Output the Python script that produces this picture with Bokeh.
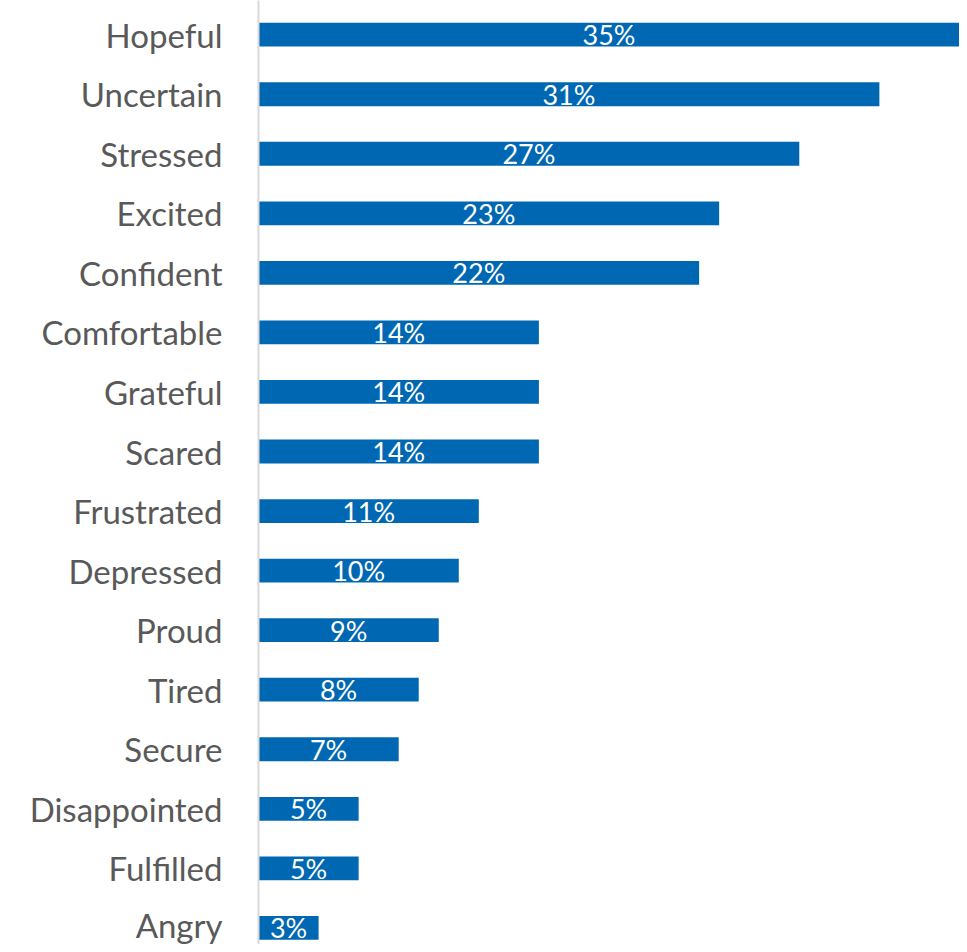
from bokeh.plotting import figure
from bokeh.models import Range1d, FixedTicker, ColumnDataSource
from bokeh.core.properties import value
from bokeh.embed import file_html
from bokeh.resources import INLINE

categories = ["Hopeful", "Uncertain", "Stressed", "Excited", "Confident", "Comfortable",
              "Grateful", "Scared", "Frustrated", "Depressed", "Proud", "Tired", "Secure",
              "Disappointed", "Fulfilled", "Angry"]
percent = [35, 31, 27, 23, 22, 14, 14, 14, 11, 10, 9, 8, 7, 5, 5, 3]

n = len(categories)
ypos = [n - 1 - i for i in range(n)]
src = ColumnDataSource(dict(
    y=ypos, v=percent, mid=[v / 2 for v in percent],
    lab=[f"{v}%" for v in percent],
))

p = figure(width=959, height=944, output_backend="svg", toolbar_location=None,
           x_range=Range1d(0, 35), y_range=Range1d(-0.279, n - 1 + 0.574),
           min_border_left=258, min_border_right=0, min_border_top=0, min_border_bottom=0)
p.outline_line_color = None
p.grid.visible = False
p.xaxis.visible = False
p.background_fill_color = "white"
p.border_fill_color = "white"

p.hbar(y="y", left=0, right="v", height=0.4, source=src,
       fill_color="#0068B2", line_color=None)
p.text(x="mid", y="y", text="lab", source=src, text_align="center",
       text_baseline="middle", text_color="white", text_font=value("Lato"),
       text_font_size="27px")

ax = p.yaxis[0]
ax.ticker = FixedTicker(ticks=ypos)
ax.major_label_overrides = {y: c for y, c in zip(ypos, categories)}
ax.major_label_text_font = "Lato"
ax.major_label_text_font_size = "33px"
ax.major_label_text_color = "#595959"
ax.major_tick_line_color = None
ax.minor_tick_line_color = None
ax.major_tick_out = 0
ax.major_label_standoff = 36
ax.axis_line_color = "#d9d9d9"
ax.axis_line_width = 2

open("out.html", "w").write(file_html(p, INLINE))
